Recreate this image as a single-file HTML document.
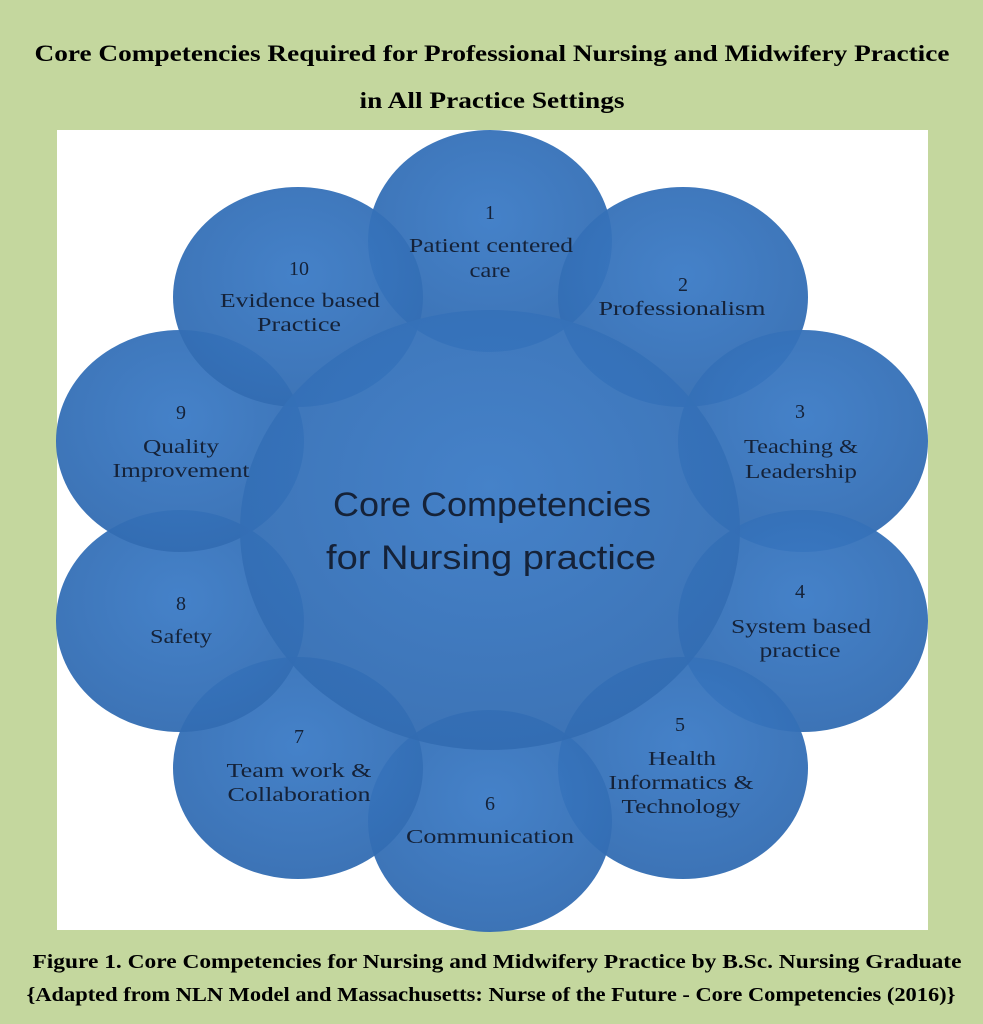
<!DOCTYPE html>
<html><head><meta charset="utf-8"><style>
body{margin:0;width:983px;height:1024px;background:#c4d79e;overflow:hidden}
svg{display:block}
</style></head><body>
<svg width="983" height="1024" xmlns="http://www.w3.org/2000/svg">
<defs>
<radialGradient id="g" cx="50%" cy="40%" r="60%">
<stop offset="0" stop-color="#3b7bc6"/><stop offset="1" stop-color="#326cb2"/>
</radialGradient>
</defs>
<rect width="983" height="1024" fill="#c4d79e"/>
<g font-family="Liberation Serif, serif" font-weight="bold" fill="#000" text-anchor="middle" lengthAdjust="spacingAndGlyphs">
<text x="492" y="61" font-size="23" textLength="915" lengthAdjust="spacingAndGlyphs">Core Competencies Required for Professional Nursing and Midwifery Practice</text>
<text x="492" y="108" font-size="23" textLength="265" lengthAdjust="spacingAndGlyphs">in All Practice Settings</text>
<text x="497" y="968" font-size="20" textLength="929" lengthAdjust="spacingAndGlyphs">Figure 1. Core Competencies for Nursing and Midwifery Practice by B.Sc. Nursing Graduate</text>
<text x="491" y="1001" font-size="20" textLength="929" lengthAdjust="spacingAndGlyphs">{Adapted from NLN Model and Massachusetts: Nurse of the Future - Core Competencies (2016)}</text>
</g>
<rect x="57" y="130" width="871" height="800" fill="#fff"/>
<g fill="url(#g)" fill-opacity="0.95">
<ellipse cx="490" cy="241" rx="122" ry="111"/>
<ellipse cx="683" cy="297" rx="125" ry="110"/>
<ellipse cx="803" cy="441" rx="125" ry="111"/>
<ellipse cx="803" cy="621" rx="125" ry="111"/>
<ellipse cx="683" cy="768" rx="125" ry="111"/>
<ellipse cx="490" cy="821" rx="122" ry="111"/>
<ellipse cx="298" cy="768" rx="125" ry="111"/>
<ellipse cx="180" cy="621" rx="124" ry="111"/>
<ellipse cx="180" cy="441" rx="124" ry="111"/>
<ellipse cx="298" cy="297" rx="125" ry="110"/>
<ellipse cx="490" cy="530" rx="250" ry="220"/>
</g>
<g font-family="Liberation Serif, serif" font-size="20" fill="#152238" text-anchor="middle">
<text x="490" y="219">1</text><text x="491" y="252" textLength="164" lengthAdjust="spacingAndGlyphs">Patient centered</text><text x="490" y="277" textLength="41" lengthAdjust="spacingAndGlyphs">care</text>
<text x="683" y="291">2</text><text x="682" y="315" textLength="167" lengthAdjust="spacingAndGlyphs">Professionalism</text>
<text x="800" y="418">3</text><text x="801" y="453" textLength="114" lengthAdjust="spacingAndGlyphs">Teaching &amp;</text><text x="801" y="478" textLength="112" lengthAdjust="spacingAndGlyphs">Leadership</text>
<text x="800" y="598">4</text><text x="801" y="633" textLength="140" lengthAdjust="spacingAndGlyphs">System based</text><text x="800" y="657" textLength="81" lengthAdjust="spacingAndGlyphs">practice</text>
<text x="680" y="731">5</text><text x="682" y="765" textLength="68" lengthAdjust="spacingAndGlyphs">Health</text><text x="681" y="789" textLength="145" lengthAdjust="spacingAndGlyphs">Informatics &amp;</text><text x="681" y="813" textLength="119" lengthAdjust="spacingAndGlyphs">Technology</text>
<text x="490" y="810">6</text><text x="490" y="843" textLength="168" lengthAdjust="spacingAndGlyphs">Communication</text>
<text x="299" y="743">7</text><text x="299" y="777" textLength="145" lengthAdjust="spacingAndGlyphs">Team work &amp;</text><text x="299" y="801" textLength="143" lengthAdjust="spacingAndGlyphs">Collaboration</text>
<text x="181" y="610">8</text><text x="181" y="643" textLength="62" lengthAdjust="spacingAndGlyphs">Safety</text>
<text x="181" y="419">9</text><text x="181" y="453" textLength="76" lengthAdjust="spacingAndGlyphs">Quality</text><text x="181" y="477" textLength="137" lengthAdjust="spacingAndGlyphs">Improvement</text>
<text x="299" y="275">10</text><text x="300" y="307" textLength="160" lengthAdjust="spacingAndGlyphs">Evidence based</text><text x="299" y="331" textLength="84" lengthAdjust="spacingAndGlyphs">Practice</text>
</g>
<g font-family="Liberation Sans, sans-serif" font-size="34" fill="#152238" text-anchor="middle">
<text x="492" y="516" textLength="318" lengthAdjust="spacingAndGlyphs">Core Competencies</text>
<text x="491" y="569" textLength="330" lengthAdjust="spacingAndGlyphs">for Nursing practice</text>
</g>
</svg>
</body></html>
